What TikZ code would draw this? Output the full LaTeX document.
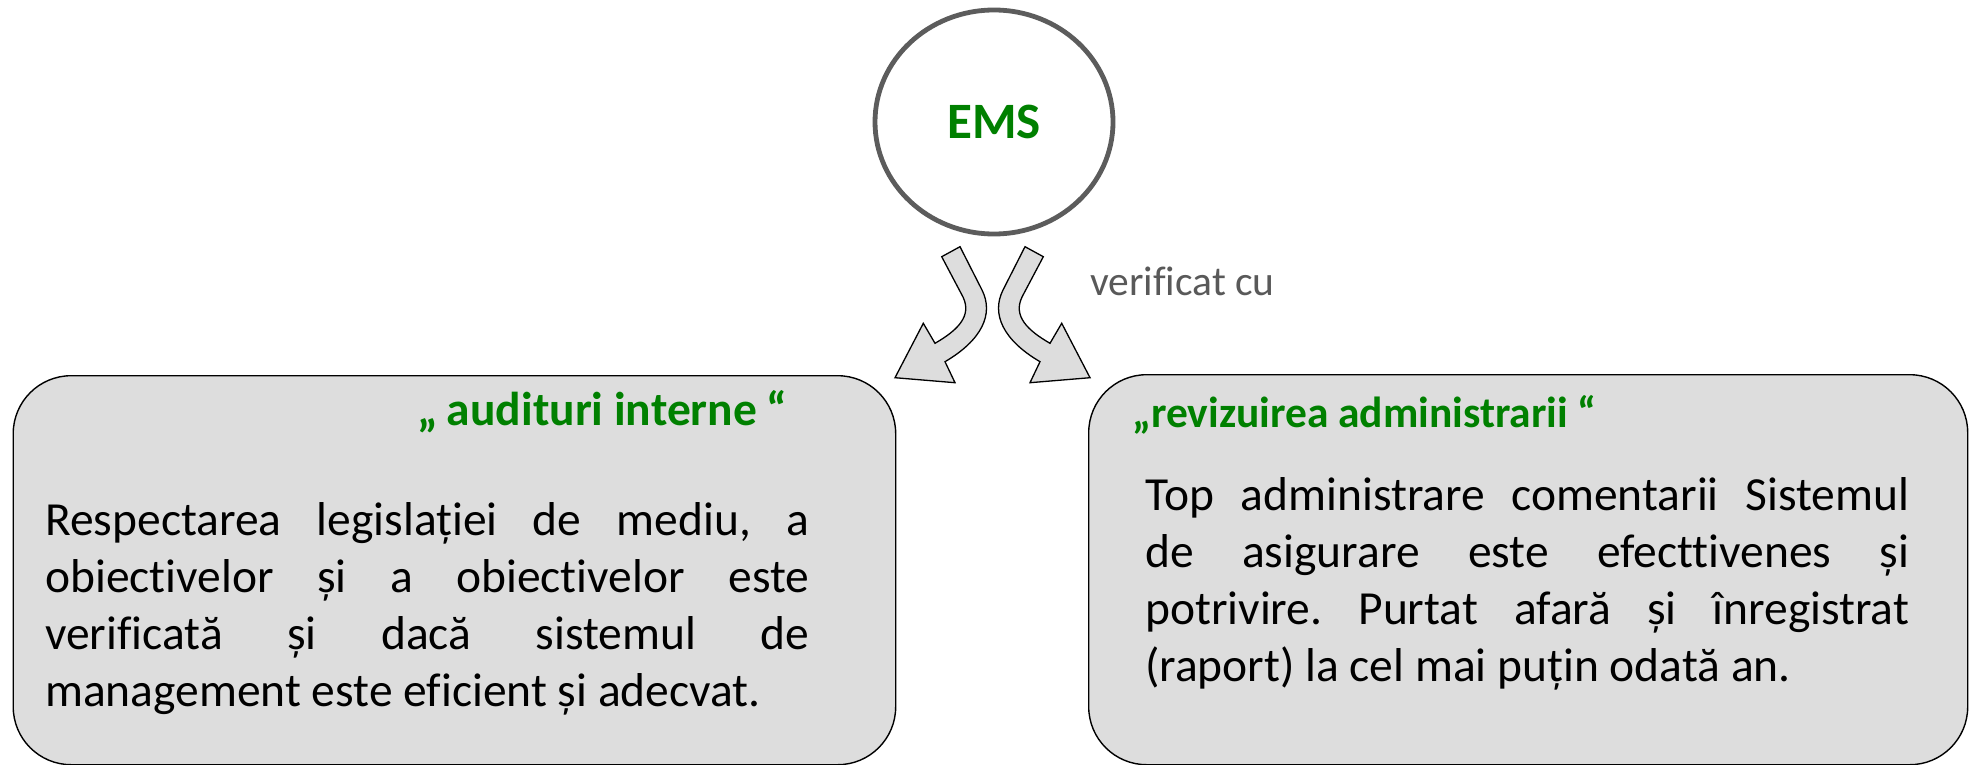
\documentclass[tikz,border=0pt]{standalone}
\usepackage{fontspec}
\setmainfont{Carlito}[Ligatures={NoCommon,NoRequired,NoContextual}]
\usetikzlibrary{shapes.geometric}
\definecolor{tgreen}{RGB}{0,128,0}
\definecolor{boxgray}{RGB}{221,221,221}
\definecolor{ringgray}{RGB}{92,92,92}
\definecolor{labgray}{RGB}{89,89,89}
\frenchspacing
\newcommand{\bodypar}[1]{\parbox[t]{764pt}{\fontsize{47.5}{57.3}\selectfont\parindent=0pt\tolerance=10000\hyphenpenalty=10000\relax #1\par}}
\tikzset{
  infobox/.style={draw=black, fill=boxgray, line width=1.4pt, rounded corners=58pt, inner sep=0pt, anchor=north west},
  ring/.style={ellipse, draw=ringgray, line width=4.8pt, fill=white, inner sep=0pt, minimum width=238pt, minimum height=224pt, font=\fontsize{51}{60}\selectfont\bfseries, text=tgreen},
  boxtitle/.style={anchor=base west, inner sep=0pt, font=\fontsize{43.5}{50}\selectfont\bfseries, text=tgreen},
  bigtitle/.style={boxtitle, font=\fontsize{47.5}{56}\selectfont\bfseries},
  bodytext/.style={anchor=base west, inner sep=0pt},
  caplabel/.style={anchor=base west, inner sep=0pt, font=\fontsize{41.5}{48}\selectfont, text=labgray},
  blockarrow/.style={draw=black, fill=boxgray, line width=1.3pt, line join=miter}
}
\begin{document}
\begin{tikzpicture}[x=1pt,y=-1pt]
\useasboundingbox (0,0) rectangle (1969,765);
% boxes
\node[infobox, minimum width=882.5pt, minimum height=389pt] (lbox) at (12.5,375) {};
\node[infobox, minimum width=879pt, minimum height=390pt] (rbox) at (1088,374) {};
% circle
\node[ring] (ems) at (994,122) {EMS};
% block arrows
\path[blockarrow] (941.7,256.7) -- (960,246.7) -- (982,290)
  .. controls (994,314) and (982,340) .. (945,361.7)
  -- (955,382.7) -- (895,377.7) -- (923.3,323.3) -- (935,343.3)
  .. controls (958,330) and (972,316) .. (963,297) -- cycle;
\begin{scope}[xshift=1985pt, xscale=-1]
\path[blockarrow] (941.7,256.7) -- (960,246.7) -- (982,290)
  .. controls (994,314) and (982,340) .. (945,361.7)
  -- (955,382.7) -- (895,377.7) -- (923.3,323.3) -- (935,343.3)
  .. controls (958,330) and (972,316) .. (963,297) -- cycle;
\end{scope}
\node[caplabel] (vcu) at (1090,295) {verificat cu};
% titles
\node[bigtitle] (lt) at (417,425) {„\hspace{9pt}audituri interne\hspace{9pt}“};
\node[boxtitle] (rt) at (1132,427) {„revizuirea administrarii “};
% body texts
\node[bodytext] (lb) at (45,535) {\bodypar{Respectarea legislației de mediu, a\linebreak obiectivelor și a obiectivelor este\linebreak verificată și dacă sistemul de\linebreak management este eficient și adecvat.}};
\node[bodytext] (rb) at (1145,510) {\bodypar{Top administrare comentarii Sistemul\linebreak de asigurare este efecttivenes și\linebreak potrivire. Purtat afară și înregistrat\linebreak (raport) la cel mai puțin odată an.}};
\end{tikzpicture}
\end{document}
